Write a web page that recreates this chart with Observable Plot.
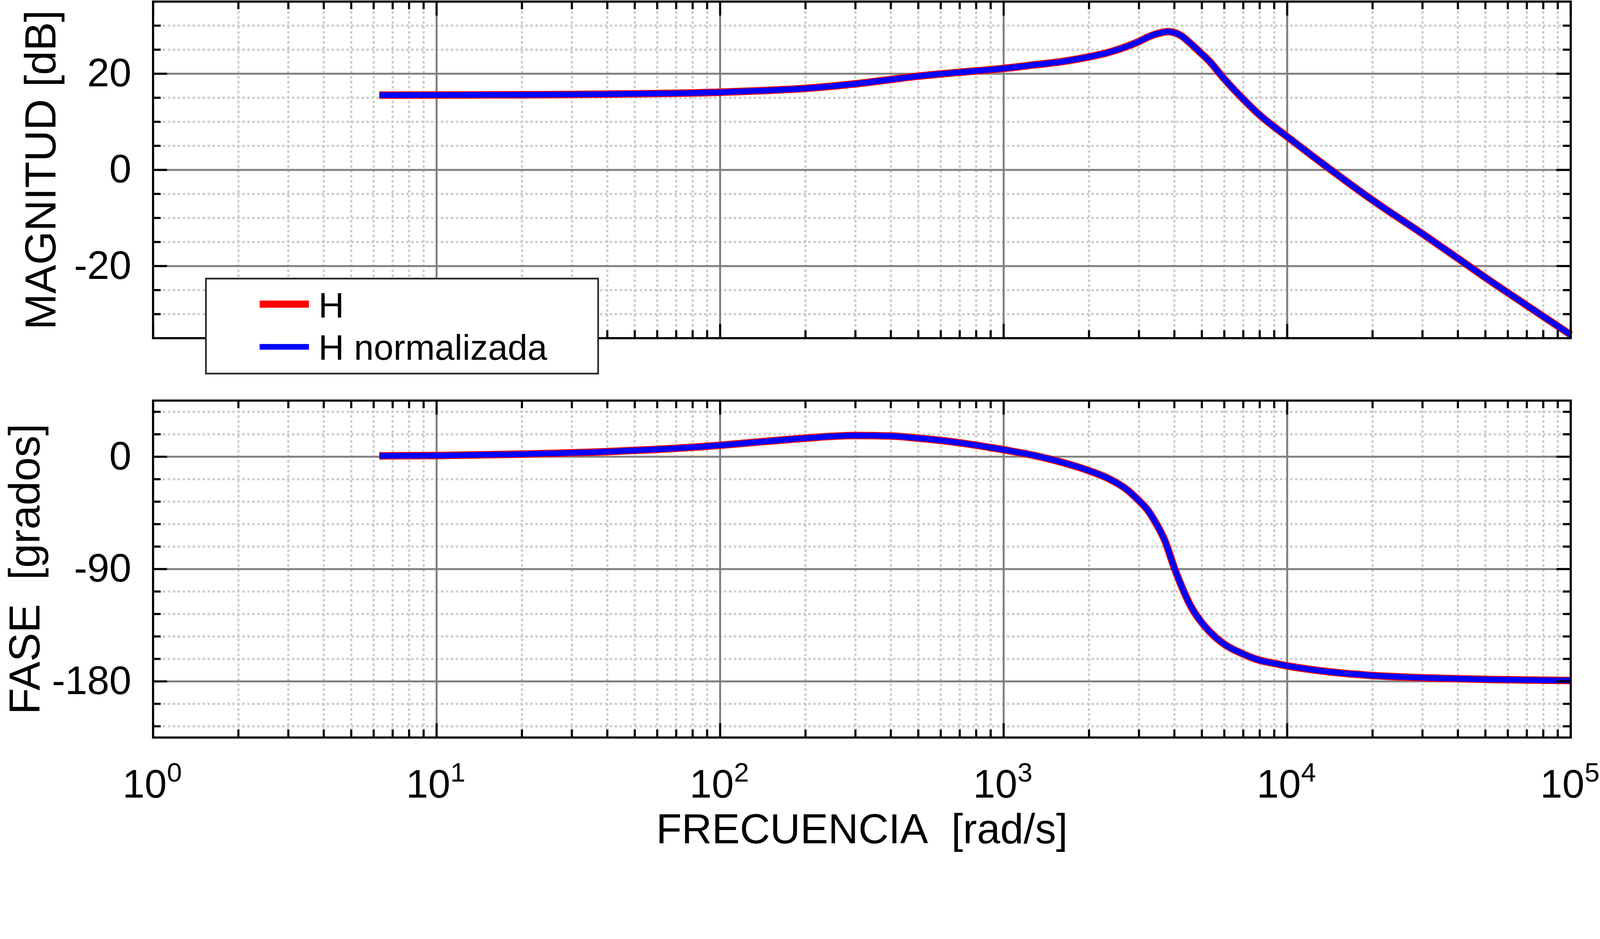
<!DOCTYPE html>
<html>
<head>
<meta charset="utf-8">
<script src="https://cdn.jsdelivr.net/npm/d3@7"></script>
<script src="https://cdn.jsdelivr.net/npm/@observablehq/plot@0.6"></script>
<style>
  html, body { margin: 0; padding: 0; background: #fff; overflow: hidden; }
  #wrap { position: relative; overflow: hidden; background: #fff; }
  #root { position: absolute; left: 0; top: 0; width: 4511px; height: 2404px; overflow: hidden; background: #fff;
          transform-origin: 0 0; font-family: "Liberation Sans", Arial, Helvetica, sans-serif; }
  #topPanel, #bottomPanel, #legend { position: absolute; left: 0; }
  #topPanel { top: 0; }
  #bottomPanel { top: 1100px; }
  #legend { left: 578px; top: 783px; }
</style>
</head>
<body>
<div id="wrap">
<div id="root">
  <div id="topPanel"></div>
  <div id="bottomPanel"></div>
  <svg id="legend" width="1111" height="273"></svg>
</div>
</div>
<script>
// ---- data ----
const freq   = [6.28, 10, 20, 40, 60, 100, 150, 200, 300, 400, 500, 700, 1000, 1222, 1637, 2000, 2366, 2698, 3000, 3222, 3466, 3727, 3812, 4000, 4253, 4578, 5000, 5297, 6000, 7000, 8000, 9000, 10000, 12200, 14000, 20000, 30000, 40000, 50000, 70000, 100000];
const magH   = [15.55, 15.57, 15.62, 15.75, 15.88, 16.15, 16.55, 16.95, 17.9, 18.8, 19.5, 20.3, 21.1, 21.7, 22.6, 23.5, 24.5, 25.6, 26.7, 27.6, 28.3, 28.72, 28.75, 28.55, 27.8, 26.2, 24.1, 22.7, 18.9, 14.7, 11.4, 8.95, 6.9, 3.0, 0.35, -6.3, -13.3, -18.4, -22.4, -28.2, -34.3];
const magHn  = [15.55, 15.57, 15.62, 15.75, 15.88, 16.15, 16.55, 16.95, 17.9, 18.8, 19.5, 20.3, 21.1, 21.7, 22.6, 23.5, 24.5, 25.6, 26.7, 27.6, 28.3, 28.72, 28.75, 28.55, 27.8, 26.2, 24.1, 22.7, 18.9, 14.7, 11.4, 8.95, 6.9, 3.0, 0.35, -6.3, -13.3, -18.4, -22.4, -28.2, -34.3];
const phaseH = [0.7, 1.0, 2.1, 4.1, 5.9, 9.2, 12.6, 14.9, 17.0, 16.6, 14.9, 11.2, 5.6, 2.0, -5.0, -11.2, -18.0, -25.7, -35.2, -42.8, -54.3, -68.9, -75.2, -89.2, -104.4, -120.1, -133.0, -139.6, -150.2, -158.1, -163.1, -165.6, -167.6, -170.6, -172.3, -175.3, -177.1, -177.9, -178.4, -178.9, -179.3];
const phaseHn= [0.7, 1.0, 2.1, 4.1, 5.9, 9.2, 12.6, 14.9, 17.0, 16.6, 14.9, 11.2, 5.6, 2.0, -5.0, -11.2, -18.0, -25.7, -35.2, -42.8, -54.3, -68.9, -75.2, -89.2, -104.4, -120.1, -133.0, -139.6, -150.2, -158.1, -163.1, -165.6, -167.6, -170.6, -172.3, -175.3, -177.1, -177.9, -178.4, -178.9, -179.3];

const seriesNames = ["H", "H normalizada"];
const seriesColors = ["red", "blue"];

const decades = [1, 10, 100, 1000, 10000, 100000];
const decadeExp = ["0", "1", "2", "3", "4", "5"];
const minorMult = [2, 3, 4, 5, 6, 7, 8, 9];

const magMajor = [-20, 0, 20];
const magMinor = [-30, -25, -15, -10, -5, 5, 10, 15, 25, 30];
const phaseMajor = [-180, -90, 0];
const phaseMinor = [-216, -198, -162, -144, -126, -108, -72, -54, -36, -18, 18, 36];

const magLabel = "MAGNITUD [dB]";
const phaseLabel = "FASE\u00a0\u00a0[grados]";
const xLabel = "FRECUENCIA\u00a0\u00a0[rad/s]";

// ---- fit the 4511x2404 drawing into the actual viewport ----
const BW = 4511, BH = 2404;
const fit = Math.min(window.innerWidth / BW, window.innerHeight / BH) || 1;
const wrap = document.getElementById("wrap");
wrap.style.width = (BW * fit) + "px";
wrap.style.height = (BH * fit) + "px";
document.getElementById("root").style.transform = `scale(${fit})`;

// ---- layout ----
const FONT = "'Liberation Sans', Arial, Helvetica, sans-serif";
const W = BW, ML = 431, MR = 83;
const PW = W - ML - MR;
const MAJ = 40, MIN = 22;

const xMinor = decades.slice(0, 5).flatMap(d => minorMult.map(m => m * d));
const xInner = decades.slice(1, 5);

const magRows = freq.map((f, i) => ({f, a: magH[i], b: magHn[i]}));
const phaseRows = freq.map((f, i) => ({f, a: phaseH[i], b: phaseHn[i]}));

function panel({rows, domain, major, minor, height, marginTop, marginBottom, label, labelDx, extra}) {
  const PH = height - marginTop - marginBottom;
  const minorStyle = {stroke: "#cbcbcb", strokeWidth: 6, strokeDasharray: "7,7"};
  const majorStyle = {stroke: "#808080", strokeWidth: 5.5};
  const tickStyle = {stroke: "black", strokeWidth: 6};
  return Plot.plot({
    width: W, height, marginLeft: ML, marginRight: MR, marginTop, marginBottom,
    style: {fontFamily: FONT, background: "white", overflow: "visible", maxWidth: "none"},
    x: {type: "log", domain: [1, 1e5], axis: null},
    y: {domain},
    marks: [
      Plot.ruleX(xMinor, minorStyle),
      Plot.ruleY(minor, minorStyle),
      Plot.ruleX(xInner, majorStyle),
      Plot.ruleY(major, majorStyle),
      Plot.line(rows, {x: "f", y: "a", stroke: seriesColors[0], strokeWidth: 21, curve: "monotone-x", strokeLinecap: "butt"}),
      Plot.line(rows, {x: "f", y: "b", stroke: seriesColors[1], strokeWidth: 16, curve: "monotone-x", strokeLinecap: "butt"}),
      // inward ticks on all four sides
      Plot.tickY(major, {...tickStyle, insetRight: PW - MAJ}),
      Plot.tickY(major, {...tickStyle, insetLeft: PW - MAJ}),
      Plot.tickY(minor, {...tickStyle, insetRight: PW - MIN}),
      Plot.tickY(minor, {...tickStyle, insetLeft: PW - MIN}),
      Plot.tickX(decades, {...tickStyle, insetBottom: PH - MAJ}),
      Plot.tickX(decades, {...tickStyle, insetTop: PH - MAJ}),
      Plot.tickX(xMinor, {...tickStyle, insetBottom: PH - MIN}),
      Plot.tickX(xMinor, {...tickStyle, insetTop: PH - MIN}),
      Plot.frame({stroke: "black", strokeWidth: 6}),
      Plot.axisY(major, {tickSize: 0, tickPadding: 61, fontSize: 112, tickFormat: d => String(d), label: null, fill: "black"}),
      Plot.text([label], {frameAnchor: "left", rotate: -90, textAnchor: "middle", lineAnchor: "bottom",
                          dx: labelDx, fontSize: 122, fill: "black"}),
      ...(extra || [])
    ]
  });
}

const topChart = panel({
  rows: magRows, domain: [-35, 35], major: magMajor, minor: magMinor,
  height: 1100, marginTop: 4, marginBottom: 147, label: magLabel, labelDx: -275
});
document.getElementById("topPanel").appendChild(topChart);

const bottomChart = panel({
  rows: phaseRows, domain: [-225, 45], major: phaseMajor, minor: phaseMinor,
  height: 1304, marginTop: 29, marginBottom: 325, label: phaseLabel, labelDx: -320,
  extra: [
    Plot.text(decades, {x: d => d, text: () => "10", frameAnchor: "bottom", textAnchor: "start",
                        lineAnchor: "bottom", dx: -86, dy: 169, fontSize: 112, fill: "black"}),
    Plot.text(decades, {x: d => d, text: (d, i) => decadeExp[i], frameAnchor: "bottom", textAnchor: "start",
                        lineAnchor: "bottom", dx: 39, dy: 124, fontSize: 76, fill: "black"}),
    Plot.text([xLabel], {frameAnchor: "bottom", textAnchor: "middle", lineAnchor: "bottom",
                         dy: 298, fontSize: 118, fill: "black"})
  ]
});
document.getElementById("bottomPanel").appendChild(bottomChart);

// ---- legend (drawn with d3 as an overlay box) ----
const lg = d3.select("#legend");
lg.append("rect").attr("x", 2.5).attr("y", 2.5).attr("width", 1106).attr("height", 268)
  .attr("fill", "white").attr("stroke", "#2a2a2a").attr("stroke-width", 5);
const rowY = [74.5, 195];
const rowW = [20, 16];
const rowBase = [112, 231];
seriesNames.forEach((name, i) => {
  lg.append("line").attr("x1", 154).attr("x2", 293).attr("y1", rowY[i]).attr("y2", rowY[i])
    .attr("stroke", seriesColors[i]).attr("stroke-width", rowW[i]);
  lg.append("text").attr("x", 320).attr("y", rowBase[i]).attr("font-size", 100)
    .attr("font-family", FONT).attr("fill", "black").text(name);
});
</script>
</body>
</html>
